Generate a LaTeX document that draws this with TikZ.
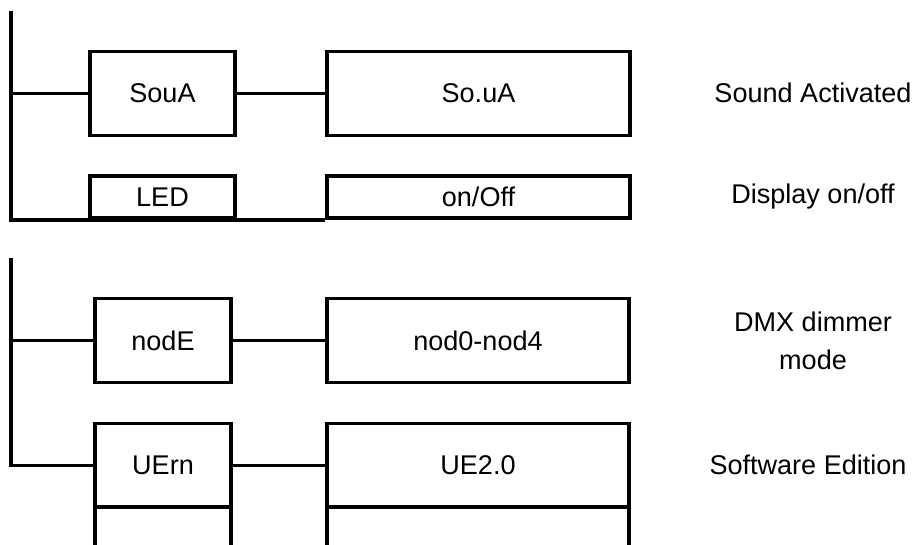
\documentclass[tikz,border=0pt]{standalone}
\usepackage{fontspec}
\setmainfont{Liberation Sans}
\usetikzlibrary{positioning}

\tikzset{
  menubox/.style={draw, line width=2pt, inner sep=0pt,
    font=\fontsize{15.4}{18}\selectfont},
  keybox/.style={menubox, minimum width=2.9cm},
  valbox/.style={menubox, minimum width=6.06cm},
  tall/.style={minimum height=1.68cm},
  flat/.style={minimum height=0.84cm},
  note/.style={align=center, font=\fontsize{15.4}{21.6}\selectfont},
  link/.style={draw, line width=2pt}
}

\begin{document}
\begin{tikzpicture}[x=0.02cm, y=-0.02cm]
\useasboundingbox (0,0) rectangle (918,544);
\begin{scope}
\clip (0,0) rectangle (918,544);
\node[keybox, tall, minimum width=2.72cm] (next) at (163,548.5) {};
\node[valbox, tall, minimum width=6.04cm] (nextval) at (478,548.5) {};
\end{scope}
\node[keybox, tall] (soua) at (162.5,93.5) {SouA};
\node[valbox, tall] (souaval) at (478.5,93.5) {So.uA};
\node[keybox, flat] (led) at (162.5,197) {LED};
\node[valbox, flat] (ledval) at (478.5,197) {on/Off};
\node[keybox, tall, minimum width=2.72cm] (mode) at (163,340.5) {nodE};
\node[valbox, tall, minimum width=6.04cm] (modeval) at (478,340.5) {nod0-nod4};
\node[keybox, tall, minimum width=2.72cm] (uern) at (163,465.5) {UErn};
\node[valbox, tall, minimum width=6.04cm] (uernval) at (478,465.5) {UE2.0};
\node[note] (soundtxt) at (813,93) {Sound Activated};
\node[note] (ledtxt) at (813,197) {Display on/off};
\node[note] (modetxt) at (813,341) {DMX dimmer\\mode};
\node[note] (uerntxt) at (808,465) {Software Edition};
\coordinate (trunka) at (11,11);
\coordinate (trunkb) at (11,258);
\path[link] (trunka) |- (ledval.south west);
\path[link] (soua.west -| trunka) -- (soua.west);
\path[link] (soua) -- (souaval);
\path[link] (trunkb) |- (uern.west);
\path[link] (mode.west -| trunkb) -- (mode.west);
\path[link] (mode) -- (modeval);
\path[link] (uern) -- (uernval);
\end{tikzpicture}
\end{document}
